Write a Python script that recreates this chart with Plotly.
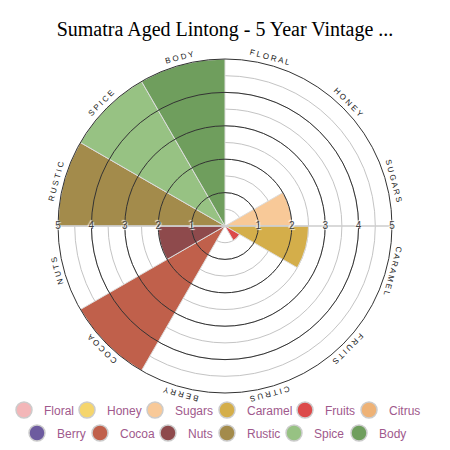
import math
import plotly.graph_objects as go

# ---------------- data ----------------
categories = ["Floral", "Honey", "Sugars", "Caramel", "Fruits", "Citrus",
              "Berry", "Cocoa", "Nuts", "Rustic", "Spice", "Body"]
values = [0, 0, 2, 2.5, 0.5, 0, 0, 5, 2, 5, 5, 5]
colors = ["#f3b6b8", "#f5d56c", "#f8c998", "#d4ae4a", "#dc4a4a", "#eeb276",
          "#6d5b9f", "#c0604b", "#8e4a4c", "#a38b4b", "#97c283", "#6f9e5d"]
radial_ticks = [1, 2, 3, 4, 5]
title_text = "Sumatra Aged Lintong - 5 Year Vintage ..."

# ---------------- layout helpers ----------------
W = H = 450
CX, CY = 225, 226          # centre in px (from top)
RPX = 167                  # px radius of r = 5
RMAX = 5
n = len(categories)
step = 360 / n
thetas = [step / 2 + step * i for i in range(n)]

legend_widths = {"Floral": 18, "Honey": 23, "Sugars": 27, "Caramel": 33,
                 "Fruits": 19, "Citrus": 34, "Berry": 18, "Cocoa": 23,
                 "Nuts": 14, "Rustic": 22, "Spice": 20, "Body": 30}

fig = go.Figure()

fig.add_trace(go.Barpolar(
    r=values, theta=thetas, width=[step] * n,
    marker=dict(color=colors, line=dict(color="#dddddd", width=1)),
    showlegend=False, hoverinfo="skip", subplot="polar",
))

# radial tick labels on both sides, drawn in overlay subplot
fig.add_trace(go.Scatterpolar(
    r=radial_ticks + radial_ticks,
    theta=[90] * len(radial_ticks) + [270] * len(radial_ticks),
    text=[str(t) for t in radial_ticks] * 2,
    mode="text",
    textfont=dict(size=10, color="#444444", family="Liberation Sans",
                  shadow="1px 1px 1px #ffffff, -1px -1px 1px #ffffff"),
    showlegend=False, hoverinfo="skip", subplot="polar2",
))

# legend entries (circle symbols)
for i, (cat, col) in enumerate(zip(categories, colors)):
    fig.add_trace(go.Scatterpolar(
        r=[None], theta=[None], mode="markers", name=cat,
        marker=dict(size=16, color=col, line=dict(color="#cccccc", width=1.5)),
        legend="legend" if i < 6 else "legend2",
        legendwidth=legend_widths[cat],
        subplot="polar", hoverinfo="skip",
    ))

dom_x = [(CX - RPX) / W, (CX + RPX) / W]
dom_y = [(H - CY - RPX) / H, (H - CY + RPX) / H]

common_ang = dict(type="linear", thetaunit="degrees", rotation=90,
                  direction="clockwise", showgrid=False, showticklabels=False,
                  ticks="")

fig.update_layout(
    width=W, height=H,
    margin=dict(l=0, r=0, t=0, b=0),
    paper_bgcolor="white",
    title=dict(text=title_text, x=0.5, xanchor="center",
               y=1 - 29 / H, yanchor="middle",
               font=dict(family="Liberation Serif", size=20, color="#000000")),
    polar=dict(
        domain=dict(x=dom_x, y=dom_y),
        bgcolor="white",
        angularaxis=dict(**common_ang, showline=True, linecolor="#333333",
                         linewidth=1, layer="above traces"),
        radialaxis=dict(range=[0, RMAX], dtick=0.5, showgrid=True, gridcolor="#c4c4c4",
                        gridwidth=1, showticklabels=False, ticks="",
                        showline=True, linecolor="#cccccc", linewidth=1.5, angle=180,
                        layer="above traces"),
    ),
    polar2=dict(
        domain=dict(x=dom_x, y=dom_y),
        bgcolor="rgba(0,0,0,0)",
        angularaxis=dict(**common_ang, showline=False, layer="below traces"),
        radialaxis=dict(range=[0, RMAX], dtick=1, showgrid=True, gridcolor="#333333",
                        gridwidth=1, showticklabels=False, ticks="",
                        showline=True, linecolor="#cccccc", linewidth=1.5, angle=0,
                        layer="below traces"),
    ),
    legend=dict(orientation="h", x=4 / W, xanchor="left", y=(H - 410) / H,
                yanchor="middle", bgcolor="rgba(0,0,0,0)",
                font=dict(family="Liberation Sans", size=12, color="#a0598c")),
    legend2=dict(orientation="h", x=17 / W, xanchor="left", y=(H - 433) / H,
                 yanchor="middle", bgcolor="rgba(0,0,0,0)",
                 font=dict(family="Liberation Sans", size=12, color="#a0598c")),
    hovermode=False,
)

# angular category labels, rotated tangentially
LABEL_R = 174
annotations = []
for cat, th in zip(categories, thetas):
    a = math.radians(th)
    px = CX + LABEL_R * math.sin(a)
    py = CY - LABEL_R * math.cos(a)
    ang = th if th <= 180 else th - 360
    annotations.append(dict(
        text=" ".join(cat.upper()), x=px / W, y=(H - py) / H,
        xref="paper", yref="paper", xanchor="center", yanchor="middle",
        showarrow=False, textangle=ang,
        font=dict(family="Liberation Sans", size=8, color="#222222"),
    ))
fig.update_layout(annotations=annotations)

fig.write_html("out.html")
